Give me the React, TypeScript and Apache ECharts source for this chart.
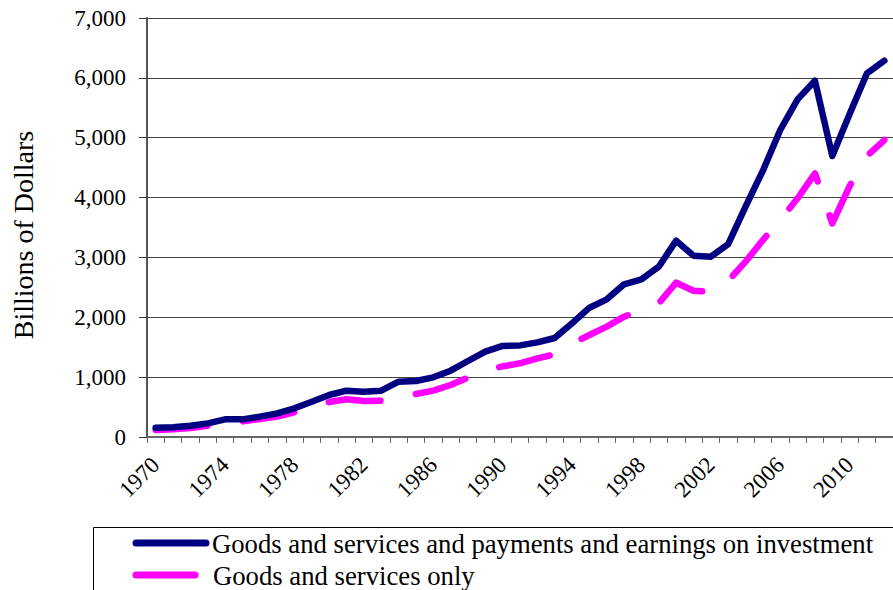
import React, { useEffect, useRef } from "react";
import * as echarts from "echarts";

const years: string[] = [];
for (let y = 1970; y <= 2012; y++) years.push(String(y));

const totalWithIncome = [
  156, 162, 189, 228, 295, 295, 340, 395, 479, 590, 702, 774, 757, 774, 924, 935, 997, 1108, 1270, 1425,
  1522, 1530, 1581, 1654, 1899, 2160, 2300, 2551, 2634, 2845, 3280, 3030, 3012, 3224, 3848, 4449, 5129,
  5641, 5952, 4694, 5396, 6076, 6286,
];

const goodsServicesOnly = [
  117, 128, 150, 189, 245, 262, 301, 340, 412, 496, 585, 630, 601, 607, 673, 718, 774, 869, 991, 1119,
  1180, 1231, 1314, 1381, 1560, 1704, 1843, 2010, 2122, 2233, 2578, 2444, 2427, 2610, 2929, 3291, 3625,
  3988, 4405, 3570, 4193, 4694, 4961,
];

const seriesNames = [
  "Goods and services and payments and earnings on investment",
  "Goods and services only",
];

const yAxisTitle = "Billions of Dollars";

const FONT = '"Liberation Serif", "Times New Roman", "DejaVu Serif", serif';

export default function App() {
  const ref = useRef<HTMLDivElement>(null);
  useEffect(() => {
    if (!ref.current) return;
    const chart = echarts.init(ref.current, null, { renderer: "svg" });
    chart.setOption({
      animation: false,
      backgroundColor: "#ffffff",
      textStyle: { fontFamily: FONT },
      grid: { left: 147, top: 18, bottom: 153, right: -2, containLabel: false },
      xAxis: {
        type: "category",
        data: years,
        boundaryGap: true,
        axisLine: { show: true, lineStyle: { color: "#666", width: 2 } },
        axisTick: { show: true, interval: 0, length: 6, lineStyle: { color: "#666", width: 1 } },
        axisLabel: {
          interval: 3,
          rotate: 45,
          margin: 24,
          fontSize: 23,
          fontFamily: FONT,
          color: "#000",
        },
        splitLine: { show: false },
      },
      yAxis: {
        type: "value",
        min: 0,
        max: 7000,
        interval: 1000,
        axisLine: { show: true, lineStyle: { color: "#555", width: 2 } },
        axisTick: { show: true, inside: false, length: 8, lineStyle: { color: "#333", width: 1 } },
        axisLabel: {
          margin: 21,
          fontSize: 23,
          fontFamily: FONT,
          color: "#000",
          formatter: (v: number) => v.toLocaleString("en-US"),
        },
        splitLine: { show: true, lineStyle: { color: "#444", width: 1 } },
      },
      series: [
        {
          name: seriesNames[0],
          type: "line",
          data: totalWithIncome,
          symbol: "none",
          lineStyle: { color: "#000080", width: 6.5, cap: "round", join: "round" },
          z: 3,
        },
        {
          name: seriesNames[1],
          type: "line",
          data: goodsServicesOnly,
          symbol: "none",
          lineStyle: { color: "#FF00FF", width: 6.5, type: [52, 36], cap: "round", join: "round" },
          z: 2,
        },
      ],
      graphic: [
        {
          type: "text",
          x: 23,
          y: 235,
          rotation: Math.PI / 2,
          style: {
            text: yAxisTitle,
            fontSize: 28,
            fontFamily: FONT,
            fill: "#000",
            align: "center",
            verticalAlign: "middle",
          },
        },
        {
          type: "rect",
          shape: { x: 93.5, y: 527.5, width: 900, height: 100 },
          style: { fill: "none", stroke: "#000", lineWidth: 1 },
        },
        {
          type: "line",
          shape: { x1: 136, y1: 543, x2: 206, y2: 543 },
          style: { stroke: "#000080", lineWidth: 7, lineCap: "round" },
        },
        {
          type: "line",
          shape: { x1: 136, y1: 575, x2: 195, y2: 575 },
          style: { stroke: "#FF00FF", lineWidth: 7, lineCap: "round" },
        },
        {
          type: "text",
          x: 212,
          y: 544,
          style: {
            text: seriesNames[0],
            fontSize: 26.7,
            fontFamily: FONT,
            fill: "#000",
            verticalAlign: "middle",
            align: "left",
          },
        },
        {
          type: "text",
          x: 213,
          y: 576,
          style: {
            text: seriesNames[1],
            fontSize: 26.7,
            fontFamily: FONT,
            fill: "#000",
            verticalAlign: "middle",
            align: "left",
          },
        },
      ],
    });
    return () => chart.dispose();
  }, []);
  return (
    <div
      ref={ref}
      style={{ position: "absolute", left: 0, top: 0, width: 893, height: 590, overflow: "hidden" }}
    />
  );
}
